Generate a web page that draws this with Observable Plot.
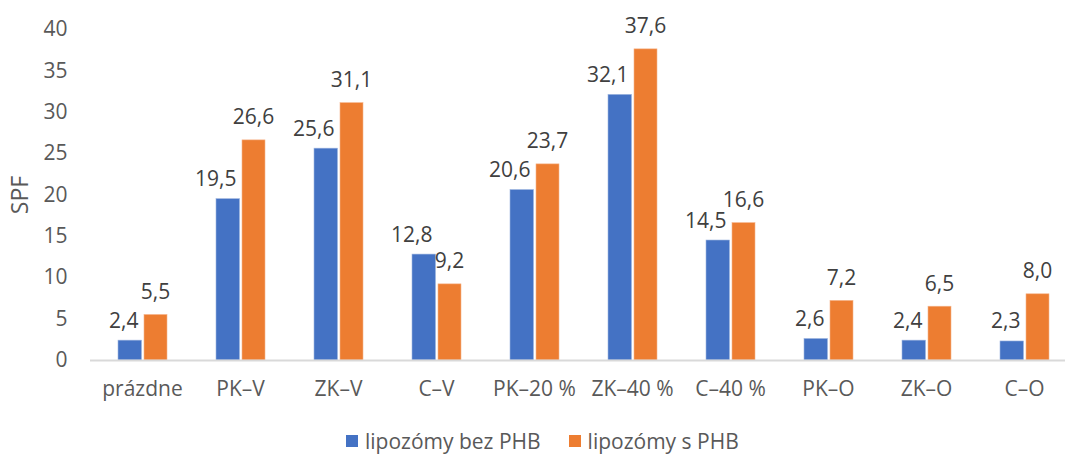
<!DOCTYPE html>
<html>
<head>
<meta charset="utf-8">
<script src="https://cdn.jsdelivr.net/npm/d3@7"></script>
<script src="https://cdn.jsdelivr.net/npm/@observablehq/plot@0.6"></script>
<style>
  body { margin: 0; background: #fff; font-family: "Open Sans", sans-serif; }
  #chart { position: relative; width: 1065px; height: 454px; overflow: hidden; }
  .legend { display: flex; gap: 0; position: absolute; left: 346px; top: 428px; font-size: 21px; color: #595959; line-height: 26px; }
  .legend span.item { display: inline-flex; align-items: center; margin-right: 28px; }
  .legend span.sw { display: inline-block; width: 12px; height: 12px; margin-right: 7px; }
</style>
</head>
<body>
<div id="chart"></div>
<script>
const categories = ["prázdne", "PK–V", "ZK–V", "C–V", "PK–20 %", "ZK–40 %", "C–40 %", "PK–O", "ZK–O", "C–O"];
const seriesNames = ["lipozómy bez PHB", "lipozómy s PHB"];
const valuesBez = [2.4, 19.5, 25.6, 12.8, 20.6, 32.1, 14.5, 2.6, 2.4, 2.3];
const valuesS = [5.5, 26.6, 31.1, 9.2, 23.7, 37.6, 16.6, 7.2, 6.5, 8.0];
const yTicks = [0, 5, 10, 15, 20, 25, 30, 35, 40];
const colors = ["#4472C4", "#ED7D31"];

const dataBez = categories.map((c, i) => ({cat: c, v: valuesBez[i]}));
const dataS = categories.map((c, i) => ({cat: c, v: valuesS[i]}));
const fmt = v => v.toFixed(1).replace(".", ",");

const W = 1065, H = 428;
const font = "Open Sans, sans-serif";
const fs = 21;

const plot = Plot.plot({
  width: W,
  height: H,
  marginLeft: 90,
  marginRight: 0,
  marginTop: 29,
  marginBottom: H - 360,
  style: {fontFamily: font, fontSize: fs + "px", color: "#595959", background: "#fff", overflow: "visible"},
  x: {domain: categories, range: [90, 1076], padding: 0, label: null},
  y: {domain: [0, 40], label: null},
  marks: [
    Plot.barY(dataBez, {x: "cat", y: "v", fill: colors[0], stroke: "#9fb6e0", strokeWidth: 0.6, insetLeft: 25, insetRight: 49.5}),
    Plot.barY(dataS, {x: "cat", y: "v", fill: colors[1], stroke: "#f5b48a", strokeWidth: 0.6, insetLeft: 51, insetRight: 24}),
    Plot.ruleY([0], {stroke: "#d9d9d9", strokeWidth: 2}),
    Plot.text(dataBez, {x: "cat", y: "v", text: d => fmt(d.v), textAnchor: "end", lineAnchor: "bottom", dx: -4, dy: -13, fill: "#404040", fontSize: fs}),
    Plot.text(dataS, {x: "cat", y: "v", text: d => fmt(d.v), textAnchor: "middle", lineAnchor: "bottom", dx: 13, dy: -16, fill: "#404040", fontSize: fs}),
    Plot.axisY({ticks: yTicks, tickSize: 0, tickPadding: 23, label: null, fill: "#595959", fontSize: fs}),
    Plot.axisX({tickSize: 0, tickPadding: 21, label: null, fill: "#595959", fontSize: fs}),
    Plot.text(["SPF"], {frameAnchor: "left", rotate: -90, dx: -70, textAnchor: "middle", lineAnchor: "middle", fill: "#595959", fontSize: 23})
  ]
});

const chart = document.getElementById("chart");
chart.appendChild(plot);

const legend = document.createElement("div");
legend.className = "legend";
seriesNames.forEach((n, i) => {
  const item = document.createElement("span");
  item.className = "item";
  const sw = document.createElement("span");
  sw.className = "sw";
  sw.style.background = colors[i];
  item.appendChild(sw);
  item.appendChild(document.createTextNode(n));
  legend.appendChild(item);
});
chart.appendChild(legend);
</script>
</body>
</html>
